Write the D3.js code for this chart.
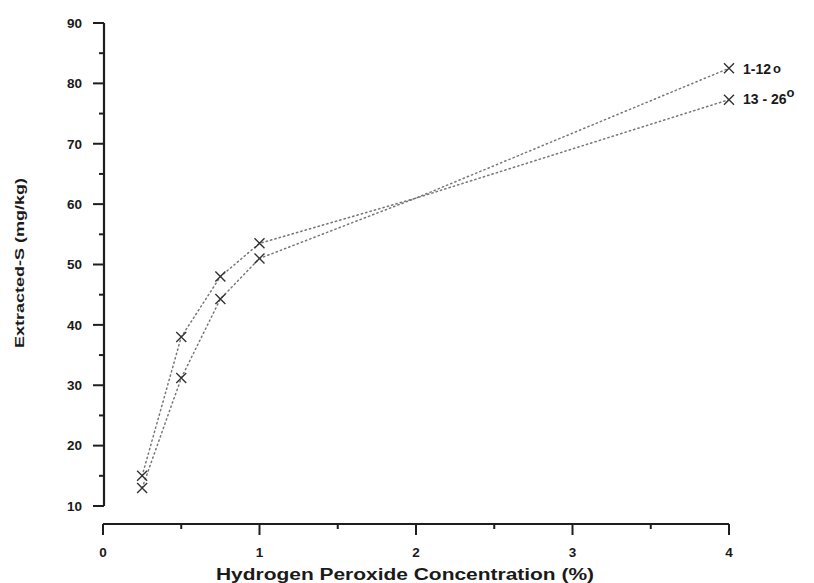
<!DOCTYPE html>
<html>
<head>
<meta charset="utf-8">
<script src="https://cdn.jsdelivr.net/npm/d3@7"></script>
<style>
  html, body { margin: 0; padding: 0; background: #fff; }
  svg { display: block; }
  text { font-family: Arial, "Liberation Sans", sans-serif; fill: #1a1a1a; }
</style>
</head>
<body>
<svg id="chart" width="814" height="583"></svg>
<script>
// Hydrogen peroxide concentration (%) at which sulphur was extracted
const concentration = [0.25, 0.5, 0.75, 1, 2, 4];
// whether a cross marker is drawn at each concentration
const measured = [true, true, true, true, false, true];
// Extracted-S (mg/kg) for the two depth groups
const seriesNames = ["1-12", "13 - 26"];
const depth1to12 = [15, 38, 48, 53.5, 61, 82.5];
const depth13to26 = [13, 31.2, 44.3, 51, 61, 77.3];
const xTicks = [0, 1, 2, 3, 4];
const yTicks = [10, 20, 30, 40, 50, 60, 70, 80, 90];

const svg = d3.select("#chart");
const ink = "#1e1e1e";

const x = d3.scaleLinear().domain([0, 4]).range([103, 729]);
const y = d3.scaleLinear().domain([10, 90]).range([506, 23]);

// y axis (offset from the x axis)
const yAxisX = 104;
const yAxis = svg.append("g").attr("transform", `translate(${yAxisX},0)`);
yAxis.append("line").attr("x1", 0).attr("x2", 0).attr("y1", y(90)).attr("y2", y(10))
  .attr("stroke", ink).attr("stroke-width", 2.2);
d3.range(10, 90.1, 5).forEach(v => {
  const major = v % 10 === 0;
  yAxis.append("line").attr("x1", major ? -11 : -5).attr("x2", 0)
    .attr("y1", y(v)).attr("y2", y(v)).attr("stroke", ink).attr("stroke-width", 2);
});
yAxis.selectAll("text.tick").data(yTicks).join("text")
  .attr("class", "tick")
  .attr("x", -22).attr("y", d => y(d)).attr("dy", "0.36em")
  .attr("text-anchor", "end").attr("font-size", 13.5).attr("font-weight", "bold")
  .text(d => d);

// x axis
const xAxisY = 524;
const xAxis = svg.append("g").attr("transform", `translate(0,${xAxisY})`);
xAxis.append("line").attr("x1", x(0)).attr("x2", x(4)).attr("y1", 0).attr("y2", 0)
  .attr("stroke", ink).attr("stroke-width", 2.2);
d3.range(0, 4.01, 0.5).forEach(v => {
  const major = Number.isInteger(v);
  xAxis.append("line").attr("x1", x(v)).attr("x2", x(v))
    .attr("y1", 0).attr("y2", major ? 11 : 5).attr("stroke", ink).attr("stroke-width", 2);
});
xAxis.selectAll("text.tick").data(xTicks).join("text")
  .attr("class", "tick")
  .attr("x", d => x(d)).attr("y", 33)
  .attr("text-anchor", "middle").attr("font-size", 13.5).attr("font-weight", "bold")
  .text(d => d);

// axis titles
svg.append("text")
  .attr("x", 405).attr("y", 580)
  .attr("text-anchor", "middle").attr("font-size", 16).attr("font-weight", "bold")
  .attr("textLength", 378).attr("lengthAdjust", "spacingAndGlyphs")
  .text("Hydrogen Peroxide Concentration (%)");

svg.append("text")
  .attr("transform", "translate(24,263) rotate(-90)")
  .attr("text-anchor", "middle").attr("font-size", 13).attr("font-weight", "bold")
  .attr("fill", "#202020")
  .attr("textLength", 170).attr("lengthAdjust", "spacingAndGlyphs")
  .text("Extracted-S (mg/kg)");

// dotted curves and cross markers
const line = d3.line().x(d => x(d[0])).y(d => y(d[1]));
const series = [depth1to12, depth13to26].map(vals => concentration.map((c, i) => [c, vals[i], measured[i]]));

series.forEach(pts => {
  svg.append("path").datum(pts).attr("d", line)
    .attr("fill", "none").attr("stroke", "#777").attr("stroke-width", 1.5)
    .attr("stroke-dasharray", "1.3,3.2").attr("stroke-linecap", "round");
});

const s = 5;
series.forEach(pts => {
  svg.append("g").selectAll("path").data(pts.filter(d => d[2])).join("path")
    .attr("d", d => {
      const cx = x(d[0]), cy = y(d[1]);
      return `M${cx - s},${cy - s}L${cx + s},${cy + s}M${cx - s},${cy + s}L${cx + s},${cy - s}`;
    })
    .attr("stroke", "#333").attr("stroke-width", 1.4).attr("fill", "none");
});

// series labels at the last point
const last = concentration.length - 1;
const lab1 = svg.append("text")
  .attr("x", x(4) + 14).attr("y", y(depth1to12[last])).attr("dy", "0.38em")
  .attr("font-size", 14).attr("font-weight", "bold");
lab1.append("tspan").text(seriesNames[0]);
lab1.append("tspan").attr("dx", 2).attr("dy", -1).attr("font-size", 13).text("o");

const lab2 = svg.append("text")
  .attr("x", x(4) + 14).attr("y", y(depth13to26[last])).attr("dy", "0.3em")
  .attr("font-size", 14).attr("font-weight", "bold");
lab2.append("tspan").text(seriesNames[1]);
lab2.append("tspan").attr("dx", 0).attr("dy", -7).attr("font-size", 13).text("o");
</script>
</body>
</html>
